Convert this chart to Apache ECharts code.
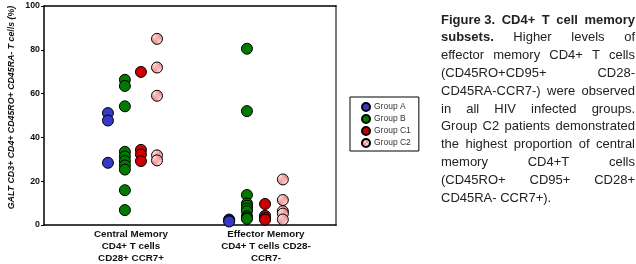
<!DOCTYPE html>
<html>
<head>
<meta charset="utf-8">
<script src="https://cdn.jsdelivr.net/npm/echarts@6/dist/echarts.min.js"></script>
<style>
  html,body{margin:0;padding:0;background:#fff;}
  #main{width:636px;height:264px;}
</style>
</head>
<body>
<div id="main"></div>
<script>
// data
var categories = ["Central Memory\nCD4+ T cells\nCD28+ CCR7+", "Effector Memory\nCD4+ T cells CD28-\nCCR7-"];
var groups = ["Group A", "Group B", "Group C1", "Group C2"];

var groupA_central = [51.1, 47.7, 28.4];
var groupA_effector = [2.5, 2.0, 1.6];
var groupB_central = [66.3, 63.5, 54.2, 33.4, 31.3, 29.2, 27.2, 25.3, 15.9, 6.8];
var groupB_effector = [80.5, 52.0, 13.7, 9.8, 8.8, 7.5, 6.3, 4.0, 3.3, 2.8];
var groupC1_central = [69.9, 34.3, 32.2, 29.2];
var groupC1_effector = [9.6, 4.2, 3.2, 2.4];
var groupC2_central = [85.0, 71.9, 59.0, 31.8, 29.5];
var groupC2_effector = [20.8, 11.4, 6.3, 5.2, 2.5];

var yTicks = [0, 20, 40, 60, 80, 100];

var captionLines = [
  [["Figure 3.", 1], ["CD4+", 1], ["T", 1], ["cell", 1], ["memory", 1]],
  [["subsets.", 1], ["Higher", 0], ["levels", 0], ["of", 0]],
  [["effector", 0], ["memory", 0], ["CD4+", 0], ["T", 0], ["cells", 0]],
  [["(CD45RO+CD95+", 0], ["CD28-", 0]],
  [["CD45RA-CCR7-)", 0], ["were", 0], ["observed", 0]],
  [["in", 0], ["all", 0], ["HIV", 0], ["infected", 0], ["groups.", 0]],
  [["Group", 0], ["C2", 0], ["patients", 0], ["demonstrated", 0]],
  [["the", 0], ["highest", 0], ["proportion", 0], ["of", 0], ["central", 0]],
  [["memory", 0], ["CD4+T", 0], ["cells", 0]],
  [["(CD45RO+", 0], ["CD95+", 0], ["CD28+", 0]],
  [["CD45RA-", 0], ["CCR7+).", 0]]
];

// layout
var slotX = [[21.9, 27.7, 33.2, 38.7], [63.4, 69.5, 75.7, 81.8]];
var labelX = [29.8, 76];
var colors = ["#3838c8", "#007a00", "#cc0000", "#f2a0a0"];

function c2Pattern(){
    var c = document.createElement("canvas");
    c.width = 4; c.height = 4;
    var ctx = c.getContext("2d");
    ctx.fillStyle = "#ee9090";
    ctx.fillRect(0, 0, 4, 4);
    ctx.fillStyle = "#fcd6d6";
    ctx.fillRect(0, 0, 2, 2);
    ctx.fillRect(2, 2, 2, 2);
    return {image: c, repeat: "repeat"};
}

function buildSeries(){
    var vals = [
        [groupA_central, groupA_effector],
        [groupB_central, groupB_effector],
        [groupC1_central, groupC1_effector],
        [groupC2_central, groupC2_effector]
    ];
    var list = [];
    groups.forEach(function(name, g){
        var data = [];
        for(var c = 0; c < 2; c++){
            vals[g][c].forEach(function(v){
                data.push([slotX[c][g], v]);
            });
        }
        list.push({
            name: name,
            type: "scatter",
            symbol: "circle",
            symbolSize: 11,
            data: data,
            itemStyle: {
                color: g == 3 ? c2Pattern() : colors[g],
                borderColor: "#000",
                borderWidth: 1,
                opacity: 1
            },
            emphasis: {disabled: true}
        });
    });
    return list;
}

function buildCaption(){
    var x0 = 441, x1 = 635, y0 = 20, lh = 17.8, size = 13;
    var family = "'Liberation Sans', Arial, sans-serif";
    var ctx = document.createElement("canvas").getContext("2d");
    var els = [];
    captionLines.forEach(function(line, i){
        var widths = line.map(function(w){
            ctx.font = (w[1] ? "bold " : "") + size + "px " + family;
            return ctx.measureText(w[0]).width;
        });
        var total = widths.reduce(function(a, b){ return a + b; }, 0);
        var last = i == captionLines.length - 1;
        ctx.font = size + "px " + family;
        var gap = last ? ctx.measureText(" ").width : (x1 - x0 - total) / (line.length - 1);
        var x = x0;
        line.forEach(function(w, j){
            els.push({
                type: "text",
                x: x,
                y: y0 + i * lh,
                style: {
                    text: w[0],
                    fontSize: size,
                    fontWeight: w[1] ? "bold" : "normal",
                    fontFamily: family,
                    fill: "#222",
                    verticalAlign: "middle"
                }
            });
            x += widths[j] + gap;
        });
    });
    return els;
}

function createChart(){
    var myChart = echarts.init(document.getElementById("main"));
    var font = "'Liberation Sans', Arial, sans-serif";
    var option = {
        animation: false,
        backgroundColor: "#fff",
        grid: {left: 44, right: 300, top: 6, bottom: 37},
        legend: {
            data: groups,
            orient: "vertical",
            left: 350,
            top: 97,
            padding: [5, 8, 3, 11],
            itemGap: 2,
            itemWidth: 8,
            itemHeight: 8,
            icon: "circle",
            backgroundColor: "#fff",
            borderColor: "#000",
            borderWidth: 1,
            borderRadius: 0,
            selectedMode: false,
            textStyle: {fontSize: 8.5, color: "#333", fontFamily: font, padding: [0, 0, 0, -1]}
        },
        xAxis: [{
            type: "value",
            min: 0,
            max: 100,
            axisLine: {show: true, onZero: false, lineStyle: {color: "#000", width: 1.5}},
            axisTick: {show: false},
            splitLine: {show: false},
            axisLabel: {
                customValues: labelX,
                margin: 3,
                fontSize: 9.8,
                fontWeight: "bold",
                lineHeight: 12,
                color: "#111",
                fontFamily: font,
                formatter: function(v){
                    return v < 50 ? categories[0] : categories[1];
                }
            }
        }, {
            type: "value",
            position: "top",
            min: 0,
            max: 100,
            axisLine: {show: true, onZero: false, lineStyle: {color: "#000", width: 1.5}},
            axisTick: {show: false},
            axisLabel: {show: false},
            splitLine: {show: false}
        }],
        yAxis: [{
            type: "value",
            min: 0,
            max: 100,
            interval: 20,
            name: "GALT CD3+ CD4+ CD45RO+ CD45RA- T cells (%)",
            nameLocation: "middle",
            nameGap: 28,
            nameRotate: 90,
            nameTextStyle: {fontSize: 8.8, fontWeight: "bold", fontStyle: "italic", color: "#111", fontFamily: font, padding: [0, 0, 0, 16]},
            axisLine: {show: true, onZero: false, lineStyle: {color: "#000", width: 1.5}},
            axisTick: {show: true, length: 3, lineStyle: {color: "#000"}},
            splitLine: {show: false},
            axisLabel: {
                margin: 4,
                fontSize: 8.8,
                fontWeight: "bold",
                color: "#111",
                fontFamily: font,
                formatter: function(v){ return yTicks.indexOf(v) >= 0 ? String(v) : ""; }
            }
        }, {
            type: "value",
            position: "right",
            min: 0,
            max: 100,
            axisLine: {show: true, onZero: false, lineStyle: {color: "#777", width: 2}},
            axisTick: {show: false},
            axisLabel: {show: false},
            splitLine: {show: false}
        }],
        graphic: buildCaption(),
        series: buildSeries()
    };
    myChart.setOption(option);
}

createChart();
</script>
</body>
</html>
